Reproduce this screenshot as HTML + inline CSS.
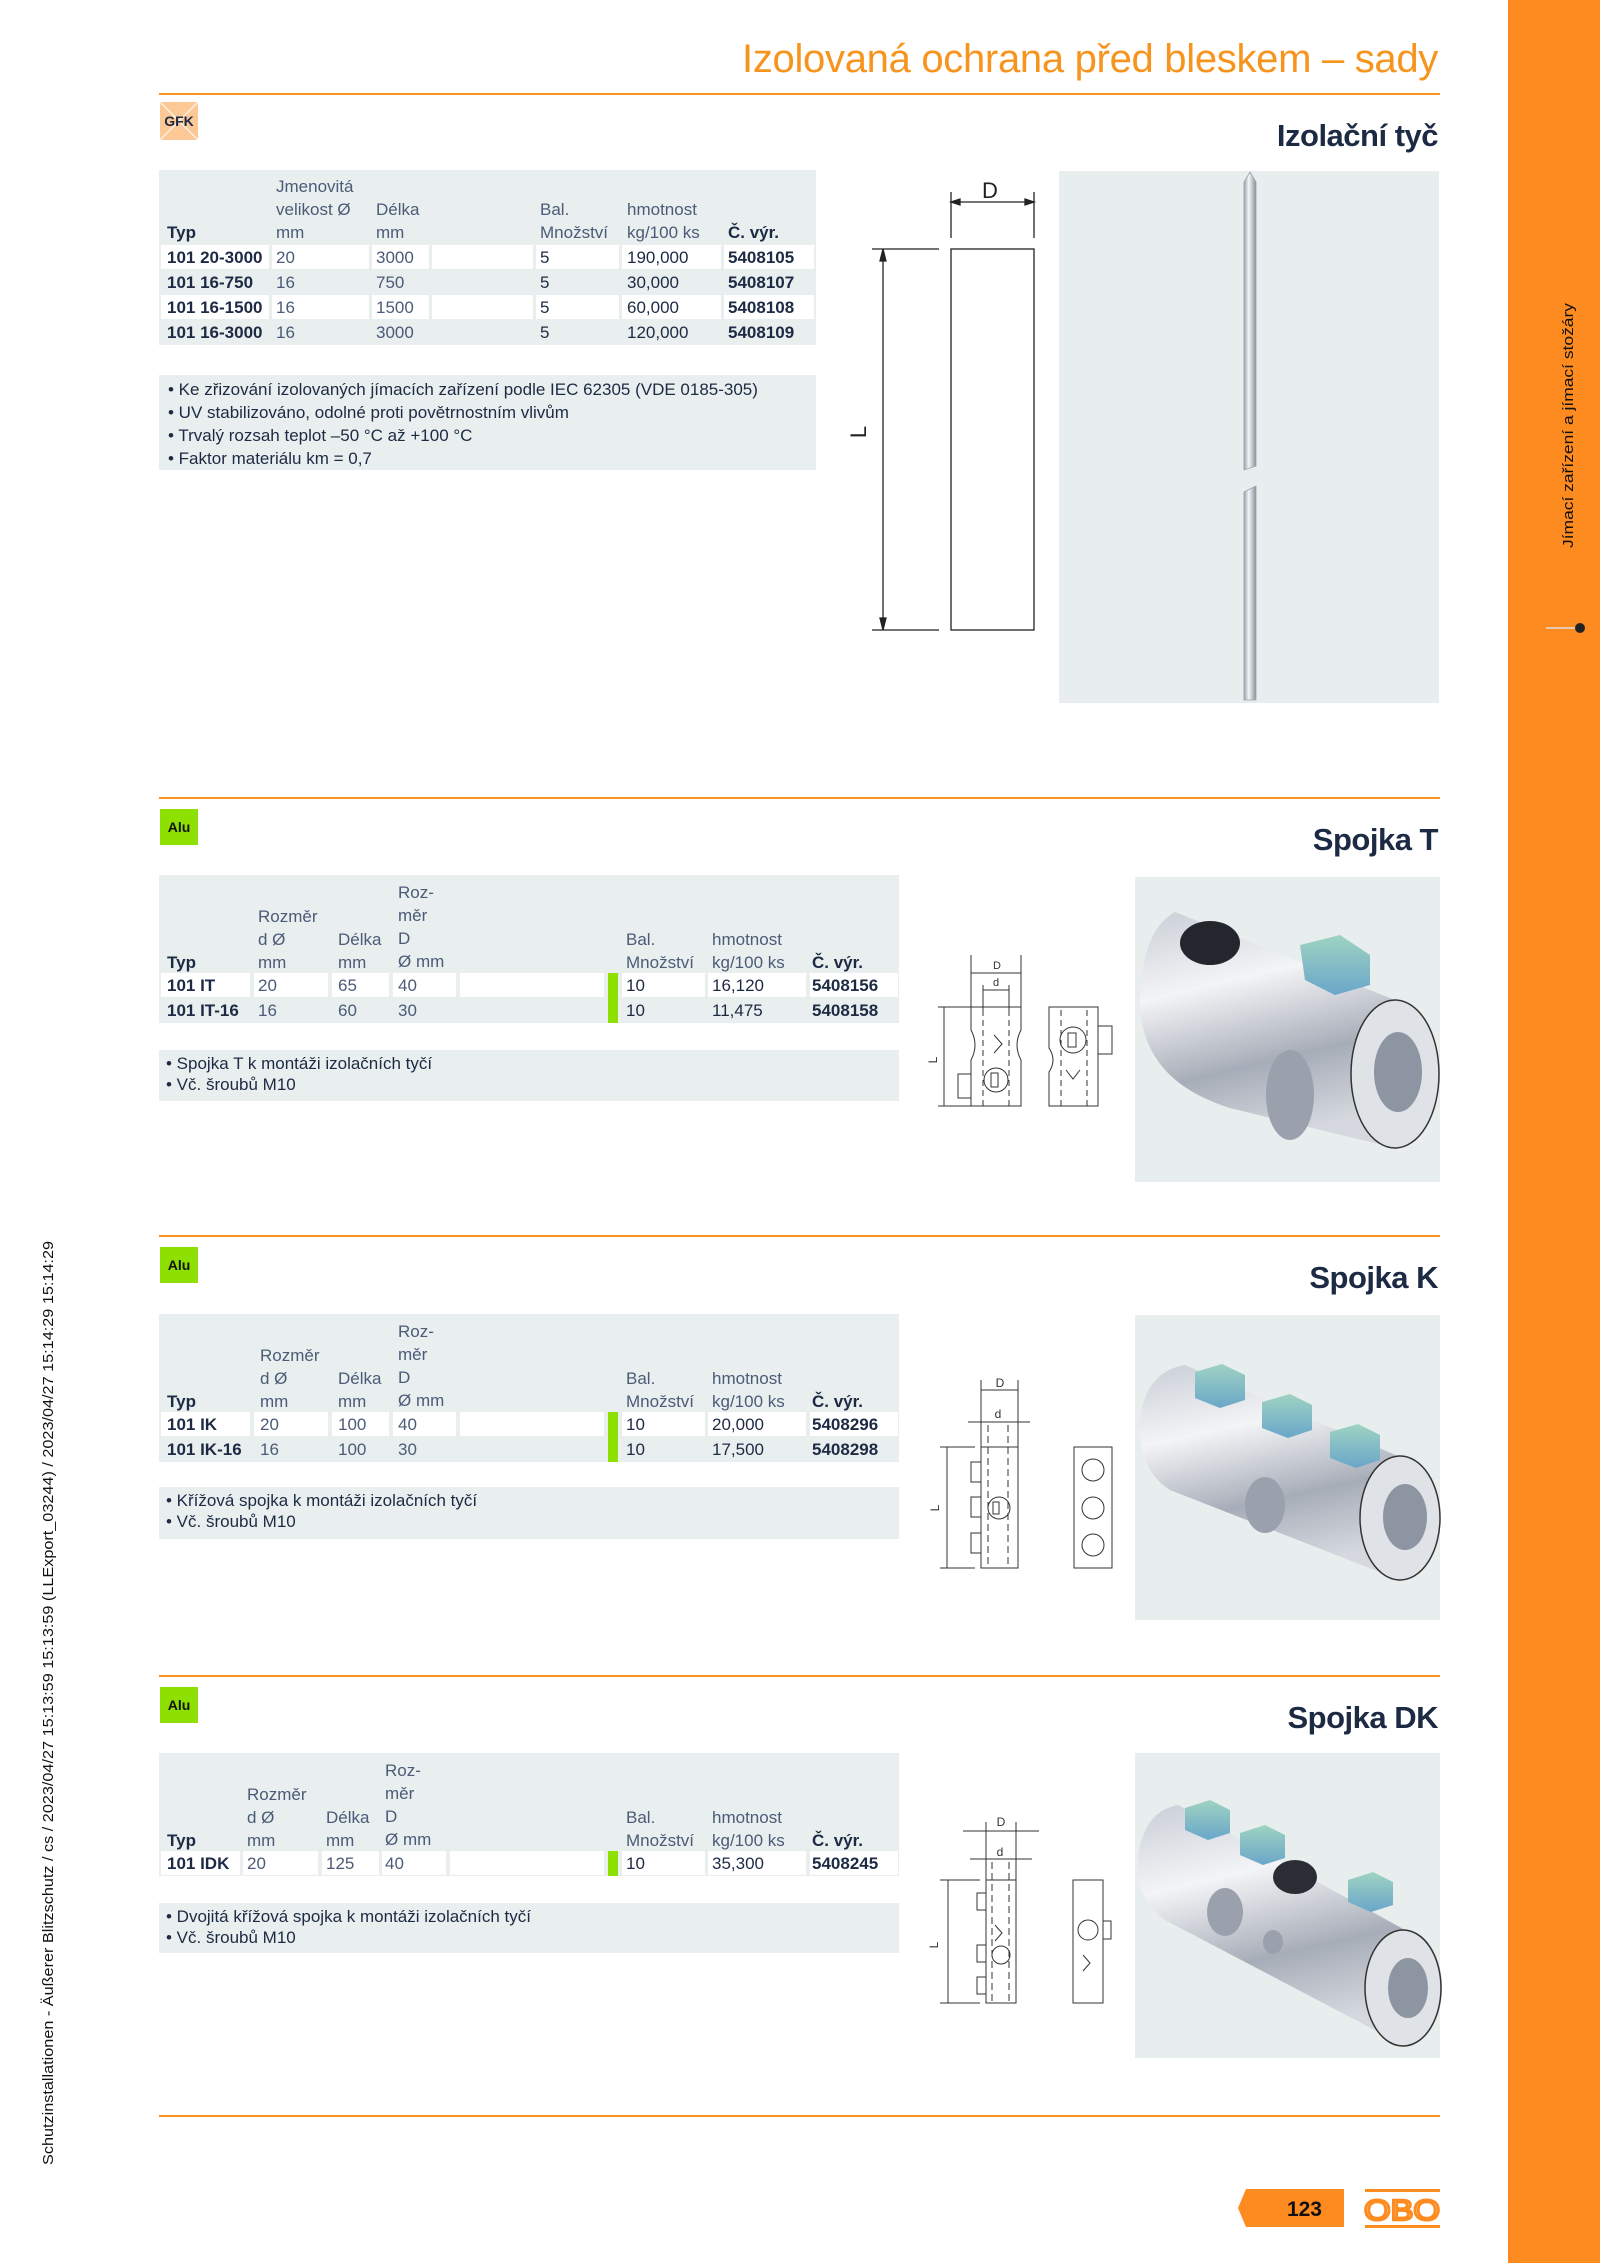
<!DOCTYPE html>
<html><head><meta charset="utf-8">
<style>
*{margin:0;padding:0;box-sizing:border-box}
body{width:1600px;height:2263px;position:relative;background:#fff;overflow:hidden;font-family:"Liberation Sans",sans-serif}
.t{position:absolute;font-size:17px;line-height:23px;color:#1d2a44;white-space:nowrap}
.r{line-height:25px}
.b{font-weight:bold}
.v{color:#4b5b78}
.bg{position:absolute;background:#e9eeee}
.c{position:absolute;background:#fff;height:24px}
.g{position:absolute;background:#8ee000}
.h{position:absolute;right:162px;font-size:31px;font-weight:bold;color:#1d2a44;white-space:nowrap;letter-spacing:-0.5px}
.badge{position:absolute;left:160px;width:38px;height:36px;background:#8ee000;font-weight:bold;font-size:14px;line-height:36px;text-align:center;color:#111}
</style></head><body>

<svg width="1600" height="2263" style="position:absolute;left:0;top:0" xmlns="http://www.w3.org/2000/svg">
<defs>
<linearGradient id="rod" x1="0" x2="1" y1="0" y2="0"><stop offset="0" stop-color="#9aa0a8"/><stop offset="0.4" stop-color="#f4f5f7"/><stop offset="1" stop-color="#8a9099"/></linearGradient>
<linearGradient id="cyl" x1="0" x2="0.3" y1="0" y2="1"><stop offset="0" stop-color="#c9ced6"/><stop offset="0.35" stop-color="#f3f4f6"/><stop offset="0.7" stop-color="#a7adb8"/><stop offset="1" stop-color="#d5d9df"/></linearGradient>
<linearGradient id="bolt" x1="0" x2="0" y1="0" y2="1"><stop offset="0" stop-color="#9fd3c2"/><stop offset="1" stop-color="#6aa6c9"/></linearGradient>
</defs>
<rect x="1508" y="0" width="92" height="2263" fill="#fd8b1f"/>
<rect x="159" y="93" width="1281" height="2" fill="#f7941d"/>
<rect x="159" y="797" width="1281" height="2" fill="#f7941d"/>
<rect x="159" y="1235" width="1281" height="2" fill="#f7941d"/>
<rect x="159" y="1675" width="1281" height="2" fill="#f7941d"/>
<rect x="159" y="2115" width="1281" height="2" fill="#f7941d"/>

<rect x="160" y="102" width="38" height="38" fill="#fcc996"/>
<path d="M160 102 L198 140 M198 102 L160 140" stroke="#fff" stroke-width="1.5" opacity="0.7"/>

<rect x="1059" y="171" width="380" height="532" fill="#e8eeee"/>
<rect x="1135" y="877" width="305" height="305" fill="#e8eeee"/>
<rect x="1135" y="1315" width="305" height="305" fill="#e8eeee"/>
<rect x="1135" y="1753" width="305" height="305" fill="#e8eeee"/>

<path d="M1244 470 L1244 182 L1250 172 L1256 182 L1256 466 Z" fill="url(#rod)" stroke="#9aa0a8" stroke-width="0.8"/>
<path d="M1244 700 L1244 492 L1256 486 L1256 700 Z" fill="url(#rod)" stroke="#9aa0a8" stroke-width="0.8"/>

<g stroke="#222" stroke-width="1.3" fill="none">
<line x1="951" y1="192" x2="951" y2="238"/><line x1="1034" y1="192" x2="1034" y2="238"/>
<line x1="951" y1="202" x2="1034" y2="202"/>
<path d="M951 202 l9 -3 v6 z M1034 202 l-9 -3 v6 z" fill="#222"/>
<rect x="951" y="249" width="83" height="381"/>
<line x1="872" y1="249" x2="939" y2="249"/><line x1="872" y1="630" x2="939" y2="630"/>
<line x1="883" y1="249" x2="883" y2="630"/>
<path d="M883 249 l-3 12 h6 z M883 630 l-3 -12 h6 z" fill="#222"/>
</g>
<text x="990" y="198" font-family="Liberation Sans" font-size="22" text-anchor="middle" fill="#222">D</text>
<text x="866" y="432" font-family="Liberation Sans" font-size="22" text-anchor="middle" fill="#222" transform="rotate(-90 866 432)">L</text>

<g stroke="#333" stroke-width="1" fill="none">
<line x1="971" y1="955" x2="971" y2="1007"/><line x1="1021" y1="955" x2="1021" y2="1007"/>
<line x1="971" y1="973" x2="1021" y2="973"/>
<line x1="983" y1="985" x2="983" y2="1010"/><line x1="1009" y1="985" x2="1009" y2="1010"/>
<line x1="983" y1="990" x2="1009" y2="990"/>
<path d="M971 1007 H1021 V1030 Q1013 1045 1021 1060 V1106 H971 V1060 Q979 1045 971 1030 Z"/>
<path d="M983 1010 V1106 M1009 1010 V1106" stroke-dasharray="6 4"/>
<path d="M994 1035 l8 9 l-8 9" />
<circle cx="996" cy="1080" r="12"/><rect x="991" y="1073" width="7" height="14"/>
<rect x="958" y="1074" width="13" height="24"/>
<line x1="938" y1="1007" x2="971" y2="1007"/><line x1="938" y1="1106" x2="971" y2="1106"/>
<line x1="944" y1="1007" x2="944" y2="1106"/>
<path d="M1049 1007 H1098 V1106 H1049 V1072 Q1057 1060 1049 1048 Z"/>
<path d="M1061 1010 V1106 M1087 1010 V1106" stroke-dasharray="6 4"/>
<circle cx="1073" cy="1040" r="13"/><rect x="1068" y="1033" width="8" height="14"/>
<path d="M1066 1070 l7 9 l7 -9"/>
<rect x="1098" y="1026" width="14" height="28"/>
</g>
<text x="997" y="969" font-family="Liberation Sans" font-size="11" text-anchor="middle" fill="#333">D</text>
<text x="996" y="986" font-family="Liberation Sans" font-size="11" text-anchor="middle" fill="#333">d</text>
<text x="937" y="1060" font-family="Liberation Sans" font-size="12" text-anchor="middle" fill="#333" transform="rotate(-90 937 1060)">L</text>

<g stroke="#333" stroke-width="1" fill="none">
<line x1="981" y1="1380" x2="981" y2="1447"/><line x1="1018" y1="1380" x2="1018" y2="1447"/>
<line x1="981" y1="1390" x2="1018" y2="1390"/>
<line x1="968" y1="1422" x2="1030" y2="1422"/>
<path d="M988 1425 V1568 M1008 1425 V1568" stroke-dasharray="7 4"/>
<rect x="981" y="1447" width="37" height="121"/>
<circle cx="999" cy="1508" r="11"/><rect x="993" y="1502" width="6" height="12"/>
<rect x="971" y="1462" width="10" height="20"/><rect x="971" y="1497" width="10" height="20"/><rect x="971" y="1533" width="10" height="20"/>
<line x1="940" y1="1447" x2="975" y2="1447"/><line x1="940" y1="1568" x2="975" y2="1568"/>
<line x1="947" y1="1447" x2="947" y2="1568"/>
<rect x="1074" y="1447" width="38" height="121"/>
<circle cx="1093" cy="1470" r="11"/><circle cx="1093" cy="1508" r="11"/><circle cx="1093" cy="1545" r="11"/>
</g>
<text x="1000" y="1387" font-family="Liberation Sans" font-size="12" text-anchor="middle" fill="#333">D</text>
<text x="998" y="1418" font-family="Liberation Sans" font-size="12" text-anchor="middle" fill="#333">d</text>
<text x="939" y="1508" font-family="Liberation Sans" font-size="12" text-anchor="middle" fill="#333" transform="rotate(-90 939 1508)">L</text>

<g stroke="#333" stroke-width="1" fill="none">
<line x1="986" y1="1822" x2="986" y2="1880"/><line x1="1016" y1="1822" x2="1016" y2="1880"/>
<line x1="963" y1="1831" x2="1039" y2="1831"/>
<line x1="970" y1="1859" x2="1032" y2="1859"/>
<path d="M992 1862 V2003 M1009 1862 V2003" stroke-dasharray="7 4"/>
<rect x="986" y="1880" width="30" height="123"/>
<circle cx="1001" cy="1955" r="9"/>
<path d="M995 1925 l7 8 l-7 8"/>
<rect x="977" y="1893" width="9" height="17"/><rect x="977" y="1945" width="9" height="17"/><rect x="977" y="1977" width="9" height="17"/>
<line x1="940" y1="1880" x2="980" y2="1880"/><line x1="940" y1="2003" x2="980" y2="2003"/>
<line x1="948" y1="1880" x2="948" y2="2003"/>
<rect x="1073" y="1880" width="30" height="123"/>
<circle cx="1088" cy="1930" r="10"/>
<path d="M1083 1955 l7 8 l-7 8"/>
<rect x="1103" y="1921" width="8" height="18"/>
</g>
<text x="1001" y="1826" font-family="Liberation Sans" font-size="12" text-anchor="middle" fill="#333">D</text>
<text x="1000" y="1856" font-family="Liberation Sans" font-size="12" text-anchor="middle" fill="#333">d</text>
<text x="938" y="1945" font-family="Liberation Sans" font-size="12" text-anchor="middle" fill="#333" transform="rotate(-90 938 1945)">L</text>

<path d="M1175 912 L1395 1000 A44 74 0 0 1 1395 1148 L1230 1108 Q1140 1080 1140 1000 Q1142 930 1175 912 Z" fill="url(#cyl)"/>
<ellipse cx="1395" cy="1074" rx="44" ry="74" fill="#dfe2e7" stroke="#333" stroke-width="1.5"/>
<ellipse cx="1398" cy="1072" rx="24" ry="40" fill="#8d95a3"/>
<ellipse cx="1210" cy="943" rx="30" ry="22" fill="#23262c"/>
<ellipse cx="1290" cy="1095" rx="24" ry="45" fill="#9aa1ad"/>
<polygon points="1300,945 1340,935 1370,955 1370,985 1335,995 1305,980" fill="url(#bolt)"/>
<path d="M1185 1365 L1400 1457 A40 62 0 0 1 1400 1580 L1170 1490 Q1138 1470 1140 1420 Q1145 1372 1185 1365 Z" fill="url(#cyl)"/>
<ellipse cx="1400" cy="1518" rx="40" ry="62" fill="#dfe2e7" stroke="#333" stroke-width="1.5"/>
<ellipse cx="1405" cy="1517" rx="22" ry="33" fill="#8d95a3"/>
<ellipse cx="1265" cy="1505" rx="20" ry="28" fill="#9aa1ad"/>
<polygon points="1195,1372 1222,1364 1245,1375 1245,1400 1220,1408 1195,1398" fill="url(#bolt)"/>
<polygon points="1262,1402 1290,1394 1312,1405 1312,1430 1288,1438 1262,1428" fill="url(#bolt)"/>
<polygon points="1330,1432 1358,1424 1380,1435 1380,1460 1356,1468 1330,1458" fill="url(#bolt)"/>
<path d="M1178 1805 L1405 1930 A37 58 0 0 1 1405 2046 L1165 1920 Q1136 1900 1138 1860 Q1142 1812 1178 1805 Z" fill="url(#cyl)"/>
<ellipse cx="1403" cy="1988" rx="38" ry="58" fill="#dfe2e7" stroke="#333" stroke-width="1.5"/>
<ellipse cx="1408" cy="1988" rx="20" ry="30" fill="#8d95a3"/>
<ellipse cx="1225" cy="1912" rx="18" ry="24" fill="#9aa1ad"/>
<ellipse cx="1273" cy="1942" rx="10" ry="12" fill="#9aa1ad"/>
<ellipse cx="1295" cy="1877" rx="22" ry="17" fill="#2a2d33"/>
<polygon points="1185,1808 1210,1800 1230,1810 1230,1833 1208,1840 1185,1830" fill="url(#bolt)"/>
<polygon points="1240,1833 1265,1825 1285,1835 1285,1858 1263,1865 1240,1855" fill="url(#bolt)"/>
<polygon points="1348,1880 1373,1872 1393,1882 1393,1905 1371,1912 1348,1902" fill="url(#bolt)"/>

<polygon points="1246,2189 1344,2189 1344,2227 1246,2227 1238,2208" fill="#fd8b1f"/>
<rect x="1365" y="2189" width="75" height="3" fill="#fd8b1f"/>
<rect x="1365" y="2225" width="75" height="3" fill="#fd8b1f"/>
<text x="1402" y="2220" font-family="Liberation Sans" font-size="29" text-anchor="middle" fill="none" stroke="#fd8b1f" stroke-width="2.5" textLength="76" lengthAdjust="spacingAndGlyphs">OBO</text>
<text x="1322" y="2216" font-family="Liberation Sans" font-size="21" font-weight="bold" text-anchor="end" fill="#111">123</text>

<text x="0" y="0" font-family="Liberation Sans" font-size="15" fill="#111" transform="translate(1573 548) rotate(-90)" textLength="245" lengthAdjust="spacingAndGlyphs">Jímací zařízení a jímací stožáry</text>
<line x1="1546" y1="628" x2="1575" y2="628" stroke="#ddd" stroke-width="1.5"/>
<circle cx="1580" cy="628" r="5" fill="#222"/>
<text x="0" y="0" font-family="Liberation Sans" font-size="15" fill="#111" transform="translate(53 2165) rotate(-90)" textLength="924" lengthAdjust="spacingAndGlyphs">Schutzinstallationen - Äußerer Blitzschutz / cs / 2023/04/27 15:13:59 15:13:59 (LLExport_03244) / 2023/04/27 15:14:29 15:14:29</text>
</svg>

<div class="t" style="right:162px;top:36px;font-size:40px;line-height:46px;color:#f7941d;letter-spacing:-0.3px">Izolovaná ochrana před bleskem – sady</div>
<div class="t b" style="left:160px;top:111px;font-size:14px;width:38px;text-align:center;line-height:20px">GFK</div>
<div class="h" style="top:118px">Izolační tyč</div>

<div class="bg" style="left:159px;top:170px;width:657px;height:175px"></div>
<div class="c" style="left:161px;top:245px;width:108px"></div><div class="c" style="left:272px;top:245px;width:97px"></div><div class="c" style="left:372px;top:245px;width:57px"></div><div class="c" style="left:432px;top:245px;width:101px"></div><div class="c" style="left:536px;top:245px;width:83px"></div><div class="c" style="left:622px;top:245px;width:99px"></div><div class="c" style="left:724px;top:245px;width:90px"></div>
<div class="c" style="left:161px;top:295px;width:108px"></div><div class="c" style="left:272px;top:295px;width:97px"></div><div class="c" style="left:372px;top:295px;width:57px"></div><div class="c" style="left:432px;top:295px;width:101px"></div><div class="c" style="left:536px;top:295px;width:83px"></div><div class="c" style="left:622px;top:295px;width:99px"></div><div class="c" style="left:724px;top:295px;width:90px"></div>
<div class="t b" style="left:167px;top:221px">Typ</div>
<div class="t v" style="left:276px;top:175px">Jmenovitá<br>velikost Ø<br>mm</div>
<div class="t v" style="left:376px;top:198px">Délka<br>mm</div>
<div class="t v" style="left:540px;top:198px">Bal.<br>Množství</div>
<div class="t v" style="left:627px;top:198px">hmotnost<br>kg/100 ks</div>
<div class="t b" style="left:728px;top:221px">Č. výr.</div>
<div class="t r b" style="left:167px;top:245px">101 20-3000<br>101 16-750<br>101 16-1500<br>101 16-3000</div>
<div class="t r v" style="left:276px;top:245px">20<br>16<br>16<br>16</div>
<div class="t r v" style="left:376px;top:245px">3000<br>750<br>1500<br>3000</div>
<div class="t r" style="left:540px;top:245px">5<br>5<br>5<br>5</div>
<div class="t r" style="left:627px;top:245px">190,000<br>30,000<br>60,000<br>120,000</div>
<div class="t r b" style="left:728px;top:245px">5408105<br>5408107<br>5408108<br>5408109</div>
<div class="bg" style="left:159px;top:375px;width:657px;height:95px"></div>
<div class="t" style="left:168px;top:378px">• Ke zřizování izolovaných jímacích zařízení podle IEC 62305 (VDE 0185-305)<br>• UV stabilizováno, odolné proti povětrnostním vlivům<br>• Trvalý rozsah teplot –50 °C až +100 °C<br>• Faktor materiálu km = 0,7</div>

<div class="badge" style="top:809px">Alu</div>
<div class="h" style="top:822px">Spojka T</div>
<div class="bg" style="left:159px;top:875px;width:740px;height:148px"></div>
<div class="c" style="left:161px;top:973px;width:89px"></div><div class="c" style="left:254px;top:973px;width:74px"></div><div class="c" style="left:332px;top:973px;width:57px"></div><div class="c" style="left:393px;top:973px;width:63px"></div><div class="c" style="left:460px;top:973px;width:144px"></div><div class="c" style="left:622px;top:973px;width:83px"></div><div class="c" style="left:708px;top:973px;width:98px"></div><div class="c" style="left:810px;top:973px;width:88px"></div>
<div class="g" style="left:608px;top:973px;width:10px;height:50px"></div>
<div class="t b" style="left:167px;top:951px">Typ</div>
<div class="t v" style="left:258px;top:905px">Rozměr<br>d Ø<br>mm</div>
<div class="t v" style="left:338px;top:928px">Délka<br>mm</div>
<div class="t v" style="left:398px;top:881px">Roz-<br>měr<br>D<br>Ø mm</div>
<div class="t v" style="left:626px;top:928px">Bal.<br>Množství</div>
<div class="t v" style="left:712px;top:928px">hmotnost<br>kg/100 ks</div>
<div class="t b" style="left:812px;top:951px">Č. výr.</div>
<div class="t r b" style="left:167px;top:973px">101 IT<br>101 IT-16</div>
<div class="t r v" style="left:258px;top:973px">20<br>16</div>
<div class="t r v" style="left:338px;top:973px">65<br>60</div>
<div class="t r v" style="left:398px;top:973px">40<br>30</div>
<div class="t r" style="left:626px;top:973px">10<br>10</div>
<div class="t r" style="left:712px;top:973px">16,120<br>11,475</div>
<div class="t r b" style="left:812px;top:973px">5408156<br>5408158</div>
<div class="bg" style="left:159px;top:1050px;width:740px;height:51px"></div>
<div class="t" style="left:166px;top:1053px;line-height:21px">• Spojka T k montáži izolačních tyčí<br>• Vč. šroubů M10</div>

<div class="badge" style="top:1247px">Alu</div>
<div class="h" style="top:1260px">Spojka K</div>
<div class="bg" style="left:159px;top:1314px;width:740px;height:148px"></div>
<div class="c" style="left:161px;top:1412px;width:89px"></div><div class="c" style="left:254px;top:1412px;width:74px"></div><div class="c" style="left:332px;top:1412px;width:57px"></div><div class="c" style="left:393px;top:1412px;width:63px"></div><div class="c" style="left:460px;top:1412px;width:144px"></div><div class="c" style="left:622px;top:1412px;width:83px"></div><div class="c" style="left:708px;top:1412px;width:98px"></div><div class="c" style="left:810px;top:1412px;width:88px"></div>
<div class="g" style="left:608px;top:1412px;width:10px;height:50px"></div>
<div class="t b" style="left:167px;top:1390px">Typ</div>
<div class="t v" style="left:260px;top:1344px">Rozměr<br>d Ø<br>mm</div>
<div class="t v" style="left:338px;top:1367px">Délka<br>mm</div>
<div class="t v" style="left:398px;top:1320px">Roz-<br>měr<br>D<br>Ø mm</div>
<div class="t v" style="left:626px;top:1367px">Bal.<br>Množství</div>
<div class="t v" style="left:712px;top:1367px">hmotnost<br>kg/100 ks</div>
<div class="t b" style="left:812px;top:1390px">Č. výr.</div>
<div class="t r b" style="left:167px;top:1412px">101 IK<br>101 IK-16</div>
<div class="t r v" style="left:260px;top:1412px">20<br>16</div>
<div class="t r v" style="left:338px;top:1412px">100<br>100</div>
<div class="t r v" style="left:398px;top:1412px">40<br>30</div>
<div class="t r" style="left:626px;top:1412px">10<br>10</div>
<div class="t r" style="left:712px;top:1412px">20,000<br>17,500</div>
<div class="t r b" style="left:812px;top:1412px">5408296<br>5408298</div>
<div class="bg" style="left:159px;top:1487px;width:740px;height:52px"></div>
<div class="t" style="left:166px;top:1490px;line-height:21px">• Křížová spojka k montáži izolačních tyčí<br>• Vč. šroubů M10</div>

<div class="badge" style="top:1687px">Alu</div>
<div class="h" style="top:1700px">Spojka DK</div>
<div class="bg" style="left:159px;top:1753px;width:740px;height:123px"></div>
<div class="c" style="left:161px;top:1851px;width:79px"></div><div class="c" style="left:243px;top:1851px;width:75px"></div><div class="c" style="left:322px;top:1851px;width:57px"></div><div class="c" style="left:382px;top:1851px;width:64px"></div><div class="c" style="left:450px;top:1851px;width:154px"></div><div class="c" style="left:622px;top:1851px;width:83px"></div><div class="c" style="left:708px;top:1851px;width:98px"></div><div class="c" style="left:810px;top:1851px;width:88px"></div>
<div class="g" style="left:608px;top:1851px;width:10px;height:25px"></div>
<div class="t b" style="left:167px;top:1829px">Typ</div>
<div class="t v" style="left:247px;top:1783px">Rozměr<br>d Ø<br>mm</div>
<div class="t v" style="left:326px;top:1806px">Délka<br>mm</div>
<div class="t v" style="left:385px;top:1759px">Roz-<br>měr<br>D<br>Ø mm</div>
<div class="t v" style="left:626px;top:1806px">Bal.<br>Množství</div>
<div class="t v" style="left:712px;top:1806px">hmotnost<br>kg/100 ks</div>
<div class="t b" style="left:812px;top:1829px">Č. výr.</div>
<div class="t r b" style="left:167px;top:1851px">101 IDK</div>
<div class="t r v" style="left:247px;top:1851px">20</div>
<div class="t r v" style="left:326px;top:1851px">125</div>
<div class="t r v" style="left:385px;top:1851px">40</div>
<div class="t r" style="left:626px;top:1851px">10</div>
<div class="t r" style="left:712px;top:1851px">35,300</div>
<div class="t r b" style="left:812px;top:1851px">5408245</div>
<div class="bg" style="left:159px;top:1903px;width:740px;height:50px"></div>
<div class="t" style="left:166px;top:1906px;line-height:21px">• Dvojitá křížová spojka k montáži izolačních tyčí<br>• Vč. šroubů M10</div>

</body></html>
